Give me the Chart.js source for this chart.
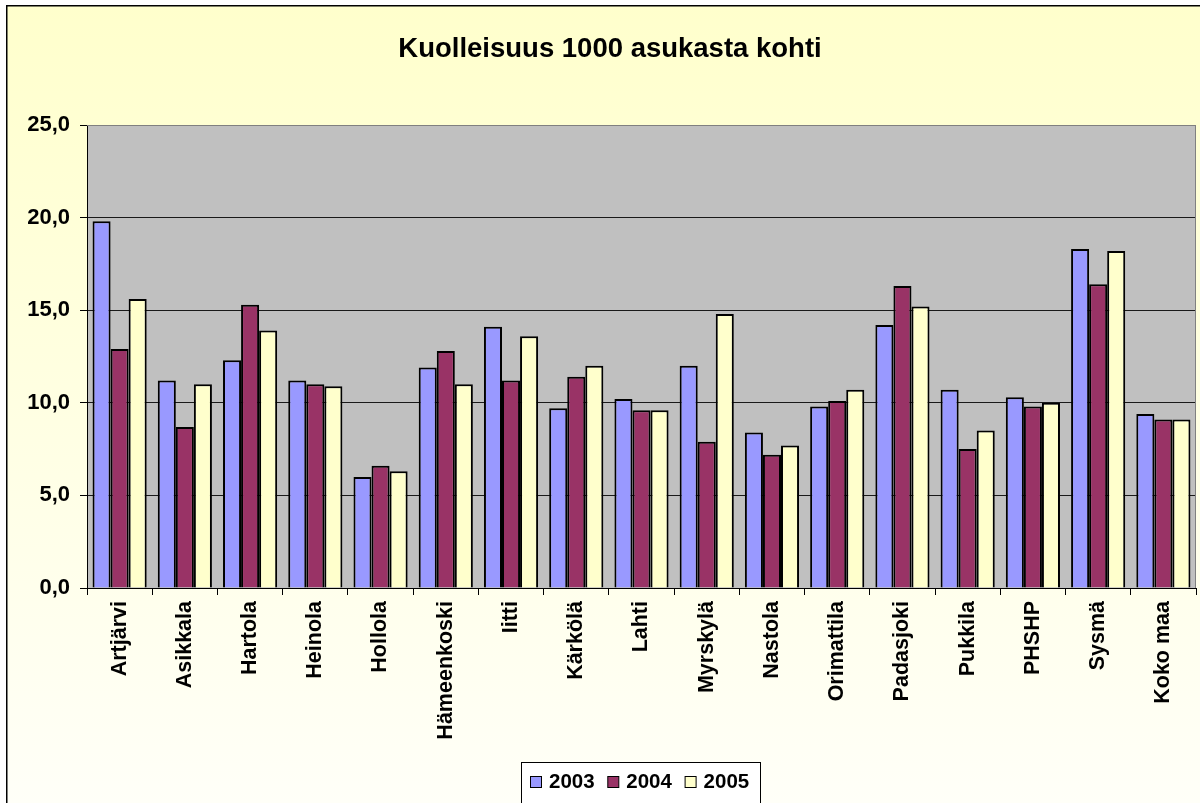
<!DOCTYPE html>
<html>
<head>
<meta charset="utf-8">
<script src="https://cdn.jsdelivr.net/npm/chart.js@4.4.1/dist/chart.umd.min.js"></script>
<style>
  html, body { margin: 0; padding: 0; background: #fff; overflow: hidden; }
  #wrap { width: 1200px; height: 803px; position: relative; }
</style>
</head>
<body>
<div id="wrap"><canvas id="c" width="1200" height="803"></canvas></div>
<script>
const titleText = 'Kuolleisuus 1000 asukasta kohti';
const categories = ['Artjärvi', 'Asikkala', 'Hartola', 'Heinola', 'Hollola', 'Hämeenkoski', 'Iitti', 'Kärkölä', 'Lahti', 'Myrskylä', 'Nastola', 'Orimattila', 'Padasjoki', 'Pukkila', 'PHSHP', 'Sysmä', 'Koko maa'];
const seriesNames = ['2003', '2004', '2005'];
const values2003 = [19.8, 11.2, 12.3, 11.2, 6.0, 11.9, 14.1, 9.7, 10.2, 12.0, 8.4, 9.8, 14.2, 10.7, 10.3, 18.3, 9.4];
const values2004 = [12.9, 8.7, 15.3, 11.0, 6.6, 12.8, 11.2, 11.4, 9.6, 7.9, 7.2, 10.1, 16.3, 7.5, 9.8, 16.4, 9.1];
const values2005 = [15.6, 11.0, 13.9, 10.9, 6.3, 11.0, 13.6, 12.0, 9.6, 14.8, 7.7, 10.7, 15.2, 8.5, 10.0, 18.2, 9.1];
const yTicks = [0, 5, 10, 15, 20, 25];

const colors = ['#9999FF', '#993366', '#FFFFCC'];
const FONT = '"Liberation Sans", Arial, sans-serif';

const decorPlugin = {
  id: 'decor',
  beforeDraw(chart) {
    const ctx = chart.ctx;
    const a = chart.chartArea;
    ctx.save();
    ctx.fillStyle = '#ffffff';
    ctx.fillRect(0, 0, chart.width, chart.height);
    const g = ctx.createLinearGradient(0, 5, 0, chart.height);
    g.addColorStop(0, '#FFFFCC');
    g.addColorStop(1, '#FFFFF8');
    ctx.fillStyle = g;
    ctx.fillRect(6, 5, chart.width - 6, chart.height - 5);
    ctx.strokeStyle = '#000';
    ctx.lineWidth = 1.5;
    ctx.beginPath();
    ctx.moveTo(6.75, chart.height);
    ctx.lineTo(6.75, 5.75);
    ctx.lineTo(chart.width, 5.75);
    ctx.stroke();
    ctx.fillStyle = '#C0C0C0';
    ctx.fillRect(a.left, a.top, a.right - a.left, a.bottom - a.top);
    ctx.restore();
  },
  afterDraw(chart) {
    const ctx = chart.ctx;
    const a = chart.chartArea;
    ctx.save();
    ctx.strokeStyle = '#808080';
    ctx.lineWidth = 1;
    ctx.beginPath();
    ctx.moveTo(a.left, a.top + 0.5);
    ctx.lineTo(a.right - 0.5, a.top + 0.5);
    ctx.lineTo(a.right - 0.5, a.bottom);
    ctx.stroke();
    ctx.fillStyle = '#000';
    ctx.font = 'bold 27.5px ' + FONT;
    ctx.textAlign = 'center';
    ctx.textBaseline = 'alphabetic';
    ctx.fillText(titleText, 610, 57);
    ctx.fillStyle = '#ffffff';
    ctx.fillRect(521, 762, 239, 41);
    ctx.strokeStyle = '#000';
    ctx.lineWidth = 1;
    ctx.strokeRect(521.5, 762.5, 239, 41);
    ctx.font = 'bold 20.5px ' + FONT;
    ctx.textAlign = 'left';
    let x = 530;
    chart.data.datasets.forEach((ds) => {
      ctx.fillStyle = ds.backgroundColor;
      ctx.fillRect(x + 0.5, 776.5, 11, 11);
      ctx.strokeStyle = '#000';
      ctx.lineWidth = 1;
      ctx.strokeRect(x + 0.5, 776.5, 11, 11);
      ctx.fillStyle = '#000';
      ctx.fillText(ds.label, x + 19, 788);
      x += 77.3;
    });
    ctx.restore();
  }
};

const datasets = [values2003, values2004, values2005].map((vals, i) => ({
  label: seriesNames[i],
  data: vals,
  backgroundColor: colors[i],
  borderColor: '#000',
  borderWidth: 2,
  categoryPercentage: 0.83,
  barPercentage: 1.0
}));

new Chart(document.getElementById('c'), {
  type: 'bar',
  data: { labels: categories, datasets },
  plugins: [decorPlugin],
  options: {
    responsive: false,
    animation: false,
    layout: { padding: { left: 0, right: 4, top: 125, bottom: 0 } },
    plugins: {
      legend: { display: false },
      title: { display: false },
      tooltip: { enabled: false }
    },
    scales: {
      x: {
        offset: true,
        grid: { drawOnChartArea: false, drawTicks: true, tickLength: 7, color: '#000', tickColor: '#000' },
        border: { display: true, color: '#000', width: 1 },
        ticks: {
          minRotation: 90, maxRotation: 90, autoSkip: false,
          padding: 6,
          color: '#000',
          font: { family: FONT, size: 21.5, weight: 'bold' }
        },
        afterFit(scale) { scale.height = 215; }
      },
      y: {
        min: 0, max: 25,
        afterBuildTicks(scale) { scale.ticks = yTicks.map(v => ({ value: v })); },
        grid: {
          color: (c) => (c.tick && c.tick.value === 25) ? '#808080' : '#1a1a1a',
          tickColor: '#000',
          tickLength: 7,
          lineWidth: 1
        },
        border: { display: true, color: '#000', width: 1 },
        ticks: {
          padding: 10,
          color: '#000',
          font: { family: FONT, size: 22, weight: 'bold' },
          callback: (v) => Number(v).toFixed(1).replace('.', ',')
        },
        afterFit(scale) { scale.width = 87; }
      }
    }
  }
});
</script>
</body>
</html>
